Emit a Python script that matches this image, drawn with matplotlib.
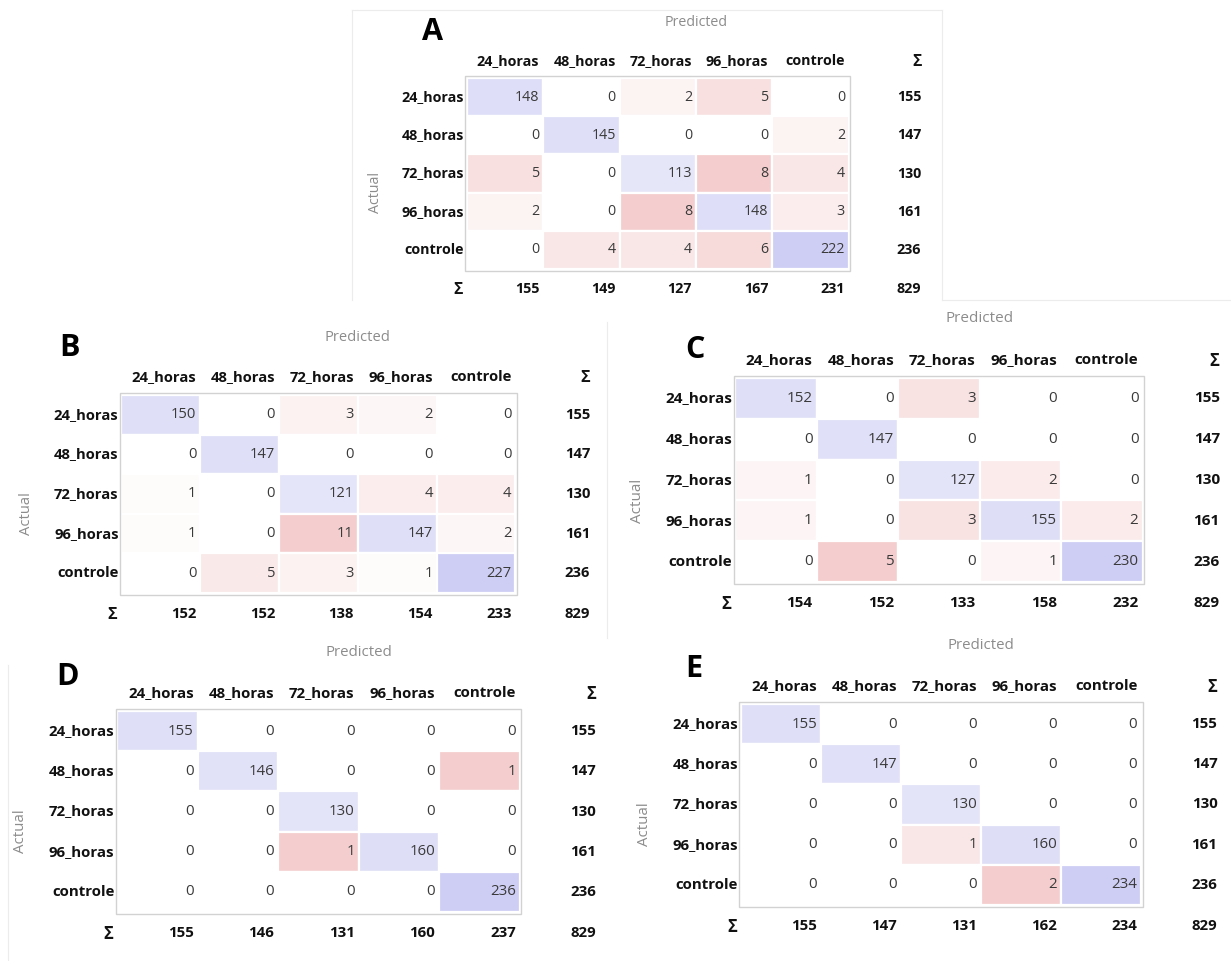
import colorsys
import numpy as np
import matplotlib
matplotlib.use("Agg")
import matplotlib.pyplot as plt
from matplotlib.patches import Rectangle
from matplotlib.lines import Line2D

plt.rcParams['font.family'] = ['Open Sans', 'DejaVu Sans']

classes = ["24_horas", "48_horas", "72_horas", "96_horas", "controle"]

cm_a = np.array([[148, 0, 2, 5, 0],
                 [0, 145, 0, 0, 2],
                 [5, 0, 113, 8, 4],
                 [2, 0, 8, 148, 3],
                 [0, 4, 4, 6, 222]])
cm_b = np.array([[150, 0, 3, 2, 0],
                 [0, 147, 0, 0, 0],
                 [1, 0, 121, 4, 4],
                 [1, 0, 11, 147, 2],
                 [0, 5, 3, 1, 227]])
cm_c = np.array([[152, 0, 3, 0, 0],
                 [0, 147, 0, 0, 0],
                 [1, 0, 127, 2, 0],
                 [1, 0, 3, 155, 2],
                 [0, 5, 0, 1, 230]])
cm_d = np.array([[155, 0, 0, 0, 0],
                 [0, 146, 0, 0, 1],
                 [0, 0, 130, 0, 0],
                 [0, 0, 1, 160, 0],
                 [0, 0, 0, 0, 236]])
cm_e = np.array([[155, 0, 0, 0, 0],
                 [0, 147, 0, 0, 0],
                 [0, 0, 130, 0, 0],
                 [0, 0, 1, 160, 0],
                 [0, 0, 0, 2, 234]])

panel_letters = ["A", "B", "C", "D", "E"]
matrices = [cm_a, cm_b, cm_c, cm_d, cm_e]

W, H = 1231, 961
# grid box of every panel in pixels: left, top, right, bottom
grid_boxes = [(466.7, 78, 848.7, 269),
              (121.4, 395, 515.4, 593),
              (735.3, 378, 1142.5, 582),
              (117.2, 711, 519.8, 912),
              (740.8, 704, 1141.3, 905)]
letter_pos = [(433, 32), (70, 348), (695, 350), (67.5, 677), (694, 669)]


def cell_colour(frac, diag):
    # hue red/blue, lightness drops with the share of the maximum
    hue = 240 / 360 if diag else 0.0
    light = (255 - 30 * frac) / 255
    return colorsys.hls_to_rgb(hue, light, 160 / 255)


fig = plt.figure(figsize=(W / 100, H / 100), dpi=100)
fig.patch.set_facecolor("white")


def px_line(x0, y0, x1, y1):
    fig.add_artist(Line2D([x0 / W, x1 / W], [1 - y0 / H, 1 - y1 / H],
                          color="#ececec", lw=0.8))


# faint frames around the pasted panels
px_line(352, 10, 942, 10)
px_line(352, 10, 352, 300)
px_line(942, 10, 942, 300)
px_line(942, 300, 1231, 300)
px_line(607, 322, 607, 638)
px_line(8, 665, 8, 961)

for cm, (l, t, r, b), letter, (lx, ly) in zip(matrices, grid_boxes,
                                              panel_letters, letter_pos):
    n = len(classes)
    ax = fig.add_axes([l / W, 1 - b / H, (r - l) / W, (b - t) / H])
    ax.set_xlim(0, n)
    ax.set_ylim(n, 0)
    ax.axis("off")
    s = (r - l) / n / 76.4
    fs = 10.3 * s

    diag_mask = np.eye(n, dtype=bool)
    off_max = cm[~diag_mask].max() or 1
    diag_max = cm[diag_mask].max() or 1

    for i in range(n):
        for j in range(n):
            v = cm[i, j]
            frac = v / diag_max if i == j else v / off_max
            ax.add_patch(Rectangle((j, i), 1, 1,
                                   facecolor=cell_colour(frac, i == j),
                                   edgecolor="white", lw=1.6))
            ax.text(j + 0.95, i + 0.5, str(v), ha="right", va="center",
                    fontsize=fs, color="#3a3a3a")

    # table frame
    ax.add_patch(Rectangle((-0.02, -0.05), n + 0.04, n + 0.1, fill=False,
                           edgecolor="#d2d2d2", lw=1.0, clip_on=False))

    row_sums = cm.sum(axis=1)
    col_sums = cm.sum(axis=0)
    for k, name in enumerate(classes):
        ax.text(k + 0.95, -0.45, name, ha="right", va="center",
                fontsize=fs, fontweight="bold", color="#111111")
        ax.text(-0.035, k + 0.5, name, ha="right", va="center",
                fontsize=fs, fontweight="bold", color="#111111")
        ax.text(n + 0.95, k + 0.5, str(row_sums[k]), ha="right", va="center",
                fontsize=fs, fontweight="bold", color="#111111")
        ax.text(k + 0.95, n + 0.52, str(col_sums[k]), ha="right", va="center",
                fontsize=fs, fontweight="bold", color="#111111")
    ax.text(n + 0.95, -0.42, "Σ", ha="right", va="center",
            fontsize=fs * 1.1, fontweight="bold", color="#111111")
    ax.text(-0.05, n + 0.55, "Σ", ha="right", va="center",
            fontsize=fs * 1.1, fontweight="bold", color="#111111")
    ax.text(n + 0.95, n + 0.52, str(cm.sum()), ha="right", va="center",
            fontsize=fs, fontweight="bold", color="#111111")

    ax.text(3.0, -1.46, "Predicted", ha="center", va="center",
            fontsize=fs, color="#8c8c8c")
    ax.text(-1.2, 3.0, "Actual", ha="center", va="center", rotation=90,
            fontsize=fs, color="#8c8c8c")

    fig.text(lx / W, 1 - ly / H, letter, ha="center", va="center",
             fontsize=22, fontweight="bold", color="black")

fig.savefig("out.png", dpi=100, facecolor="white")
